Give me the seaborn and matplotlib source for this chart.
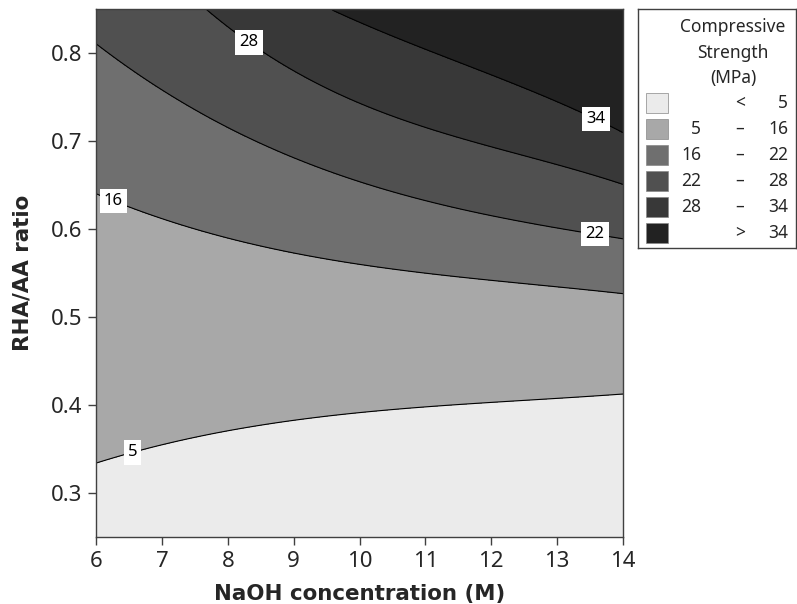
"""
Contour plot: compressive strength vs NaOH concentration and RHA/AA ratio.
"""

import numpy as np
import matplotlib
matplotlib.use("Agg")
import matplotlib.pyplot as plt
import seaborn as sns
from matplotlib.patches import Rectangle

levels = [5, 16, 22, 28, 34]
band_colors = ["#ebebeb", "#a8a8a8", "#6f6f6f", "#505050", "#383838", "#222222"]

# contour lines: NaOH (M) -> RHA/AA ratio
line_5_x = [6, 7, 8, 9, 10, 11, 12, 13, 14]
line_5_y = [0.333, 0.356, 0.371, 0.381, 0.391, 0.398, 0.403, 0.408, 0.412]
line_16_x = [6, 6.5, 7, 8, 9, 10, 11, 12, 13, 14]
line_16_y = [0.640, 0.627, 0.611, 0.588, 0.574, 0.561, 0.550, 0.541, 0.534, 0.527]
line_22_x = [6, 6.6, 7, 8, 8.7, 9.4, 10.3, 10.6, 12.2, 14]
line_22_y = [0.816, 0.773, 0.754, 0.718, 0.694, 0.675, 0.643, 0.637, 0.614, 0.589]
line_28_x = [7.63, 8.1, 8.6, 9.4, 10.3, 10.6, 12.2, 14]
line_28_y = [0.850, 0.827, 0.800, 0.768, 0.730, 0.722, 0.694, 0.650]
line_34_x = [9.6, 10.1, 10.6, 11.1, 11.8, 12.6, 13.3, 13.8, 14]
line_34_y = [0.850, 0.832, 0.814, 0.801, 0.785, 0.760, 0.730, 0.716, 0.713]

x_ticks = [6, 7, 8, 9, 10, 11, 12, 13, 14]
y_ticks = [0.3, 0.4, 0.5, 0.6, 0.7, 0.8]

sns.set_style("ticks")
plt.rcParams["font.family"] = ["Noto Sans", "DejaVu Sans"]

# build the strength surface column by column from (smoothed) contour lines
lines = [(line_5_x, line_5_y), (line_16_x, line_16_y), (line_22_x, line_22_y),
         (line_28_x, line_28_y), (line_34_x, line_34_y)]
fits = [np.polyfit(lx, ly, 3) for lx, ly in lines]
x_grid = np.linspace(6, 14, 321)
y_grid = np.linspace(0.25, 0.85, 241)
Z = np.empty((y_grid.size, x_grid.size))
for j, xv in enumerate(x_grid):
    ys, zs = [], []
    for lev, (lx, ly), p in zip(levels, lines, fits):
        if lx[0] <= xv <= lx[-1]:
            ys.append(np.polyval(p, xv))
            zs.append(lev)
    ys = np.array(ys)
    zs = np.array(zs, dtype=float)
    col = np.interp(y_grid, ys, zs)
    lo = y_grid < ys[0]
    col[lo] = zs[0] + (y_grid[lo] - ys[0]) * (zs[1] - zs[0]) / (ys[1] - ys[0])
    hi = y_grid > ys[-1]
    col[hi] = zs[-1] + (y_grid[hi] - ys[-1]) * (zs[-1] - zs[-2]) / (ys[-1] - ys[-2])
    Z[:, j] = col

fig = plt.figure(figsize=(7.97, 6.04), dpi=100)
ax = fig.add_axes([0.1205, 0.1114, 0.6612, 0.8729])
bounds = [Z.min() - 1] + levels + [Z.max() + 1]
ax.contourf(x_grid, y_grid, Z, levels=bounds, colors=band_colors)
cs = ax.contour(x_grid, y_grid, Z, levels=levels, colors="black", linewidths=0.8)

label_pos = [(6.55, 0.347), (6.27, 0.634), (13.57, 0.593), (8.3, 0.810), (13.57, 0.722)]
texts = ax.clabel(cs, fmt="%d", manual=label_pos, inline=False, fontsize=12)
for t in texts:
    t.set_rotation(0)
    t.set_color("black")
    t.set_bbox(dict(boxstyle="square,pad=0.25", fc="white", ec="none"))

ax.set_xlim(6, 14)
ax.set_ylim(0.25, 0.85)
ax.set_xticks(x_ticks)
ax.set_yticks(y_ticks)
ax.set_yticklabels([f"{v:.1f}" for v in y_ticks])
ax.tick_params(labelsize=16, length=6, width=1, color="#404040", pad=4)
for s in ax.spines.values():
    s.set_color("#404040")
    s.set_linewidth(1)
ax.set_xlabel("NaOH concentration (M)", fontsize=15.4, fontweight="bold",
              family="DejaVu Sans", labelpad=9)
ax.set_ylabel("RHA/AA ratio", fontsize=15.4, fontweight="bold",
              family="DejaVu Sans", labelpad=13)

# legend box drawn in pixel-like units
lax = fig.add_axes([638 / 797, (604 - 248) / 604, 158 / 797, 239 / 604])
lax.set_xlim(0, 158)
lax.set_ylim(239, 0)
lax.set_xticks([])
lax.set_yticks([])
for s in lax.spines.values():
    s.set_color("#404040")
    s.set_linewidth(1)
for i, line in enumerate(["Compressive", "Strength", "(MPa)"]):
    lax.text(95, 18 + 25.5 * i, line, ha="center", va="center", fontsize=12.5)
low_labels = [""] + [str(v) for v in levels[:-1]] + [""]
high_labels = [str(v) for v in levels] + [str(levels[-1])]
signs = ["<"] + ["–"] * (len(levels) - 1) + [">"]
for i, col in enumerate(band_colors):
    yc = 94 + 26 * i
    lax.add_patch(Rectangle((8, yc - 10), 22, 20, fc=col, ec="#888888", lw=0.5))
    lax.text(63, yc, low_labels[i], ha="right", va="center", fontsize=12.5)
    lax.text(102, yc, signs[i], ha="center", va="center", fontsize=12.5)
    lax.text(150, yc, high_labels[i], ha="right", va="center", fontsize=12.5)

fig.savefig("out.png", dpi=100)
